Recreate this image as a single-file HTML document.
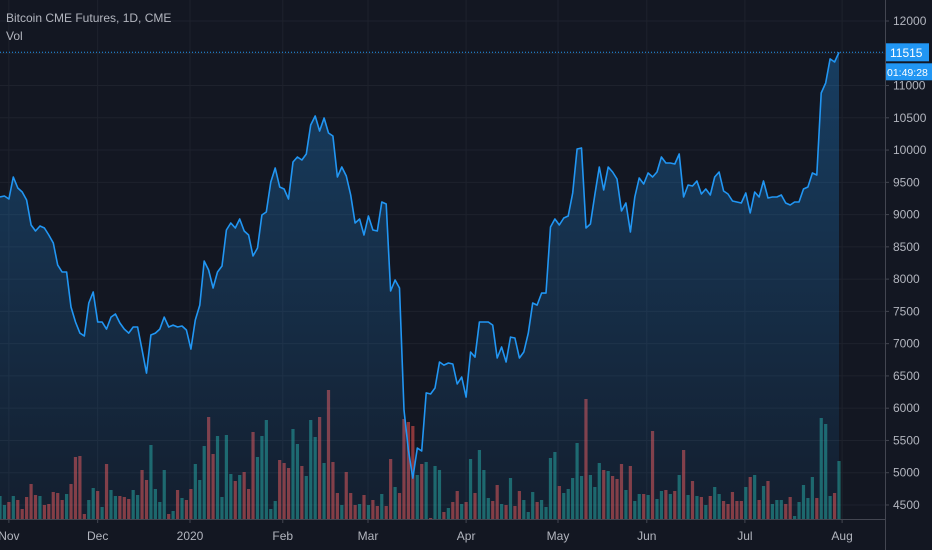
<!DOCTYPE html>
<html><head><meta charset="utf-8">
<style>
html,body{margin:0;padding:0;background:#131722;}
svg{display:block;font-family:"Liberation Sans",sans-serif;}
</style></head>
<body>
<svg id="chart" width="932" height="550" viewBox="0 0 932 550">
<defs>
<linearGradient id="areaGrad" x1="0" y1="0" x2="0" y2="1">
<stop offset="0" stop-color="#2196f3" stop-opacity="0.30"/>
<stop offset="1" stop-color="#2196f3" stop-opacity="0.06"/>
</linearGradient>
</defs>
<rect x="0" y="0" width="932" height="550" fill="#131722"/>
<g id="grid"></g>
<g id="vol"></g>
<g id="price"></g>
<g id="axes"></g>
<text x="6" y="22" fill="#b2b5be" font-size="12">Bitcoin CME Futures, 1D, CME</text>
<text x="6" y="40" fill="#b2b5be" font-size="12">Vol</text>
</svg>
<script>
const priceTicks = [12000,11500,11000,10500,10000,9500,9000,8500,8000,7500,7000,6500,6000,5500,5000,4500];
const monthLabels = ["Nov","Dec","2020","Feb","Mar","Apr","May","Jun","Jul","Aug"];
const monthBarIndex = [2,22,42.8,63.7,82.9,105,125.7,145.7,167.8,189.7];
const lastPrice = 11515;
const countdown = "01:49:28";
const closes = [9272,9288,9242,9582,9412,9350,9226,8838,8746,8823,8792,8683,8560,8218,8110,8110,7568,7335,7164,7118,7630,7800,7335,7335,7226,7412,7459,7320,7226,7164,7258,7258,6901,6544,7134,7164,7226,7412,7258,7288,7258,7273,7211,6916,7366,7598,8280,8141,7862,8110,8203,8761,
8870,8792,8932,8746,8683,8358,8482,8994,9040,9505,9722,9428,9397,9242,9815,9892,9846,9939,10388,10528,10296,10497,10264,10218,9582,9738,9598,9304,8870,8932,8683,8978,8761,8746,9195,9164,7816,7986,7862,5971,5351,4917,5382,5336,6237,6219,6312,6715,6668,
6700,6684,6374,6483,6172,6870,6792,7335,7335,7335,7288,6777,6948,6715,7102,7087,6777,6870,7164,7630,7598,7784,7784,8808,8932,8838,8947,8978,9334,10016,10032,8792,8854,9304,9738,9381,9738,9660,9552,9056,9180,8730,9272,9567,9474,9644,9582,9660,9892,9800,9800,
9784,9939,9272,9458,9443,9520,9319,9397,9304,9582,9660,9366,9319,9210,9195,9180,9334,9024,9350,9272,9520,9257,9272,9272,9304,9180,9148,9195,9195,9397,9428,9644,9613,10884,11040,11412,11365,11515];
const volumes = [23,14,17,23,19,10,22,35,24,23,14,15,27,26,19,25,35,62,63,5,19,31,28,12,55,29,23,23,22,20,29,24,49,39,74,30,17,49,5,8,29,21,19,30,55,39,73,102,65,83,22,84,45,38,44,47,30,87,62,83,99,10,18,59,56,51,90,75,53,43,99,82,102,56,129,57,26,14,47,26,14,15,24,14,19,13,25,13,60,32,26,100,97,93,44,55,57,1,53,49,7,11,17,28,15,
17,60,26,69,49,21,18,34,15,14,41,13,28,19,7,27,17,19,12,61,67,33,26,30,41,76,43,120,44,32,56,49,48,43,40,55,29,53,18,25,25,24,88,20,28,29,25,28,44,69,24,38,23,22,14,23,32,25,18,15,27,18,18,32,42,44,19,33,38,15,19,19,15,22,3,17,34,21,42,21,101,95,23,26,58];

const svg = document.getElementById('chart');
const NS = 'http://www.w3.org/2000/svg';
const plotRight = 885, baseY = 519, lastX = 839;
function yP(v){ return 21 + (12000 - v) * 0.06453; }
function xP(i){ return i * lastX / (closes.length - 1); }
function xV(i){ return i * lastX / (volumes.length - 1); }
function yV(v){ return baseY - v; }
function mk(tag, attrs, parent){ const e=document.createElementNS(NS,tag); for(const k in attrs) e.setAttribute(k,attrs[k]); parent.appendChild(e); return e; }

const grid = document.getElementById('grid');
priceTicks.forEach(t=>{
  const l = mk('line',{x1:0,x2:plotRight,y1:yP(t),y2:yP(t),stroke:'#1e222d','stroke-width':1},grid);
  
  
});
monthBarIndex.forEach(i=>{
  const x = xP(i);
  const l = mk('line',{x1:x,x2:x,y1:0,y2:baseY,stroke:'#1e222d','stroke-width':1},grid);
  
  
});

const vol = document.getElementById('vol');
volumes.forEach((v,i)=>{
  const pi = Math.round(i*(closes.length-1)/(volumes.length-1));
  const up = pi===0 ? true : closes[pi] >= closes[pi-1];
  const r = mk('rect',{x:xV(i)-1.6,y:yV(v),width:3.2,height:v,fill:up?'#26a69a':'#ef5350','fill-opacity':0.55},vol);
  
  
});

const pg = document.getElementById('price');
let d = '';
closes.forEach((c,i)=>{ d += (i?'L':'M') + xP(i).toFixed(1) + ' ' + yP(c).toFixed(1); });
const area = mk('path',{d: d + 'L' + xP(closes.length-1) + ' ' + baseY + 'L0 ' + baseY + 'Z', fill:'url(#areaGrad)'},pg);


const line = mk('path',{d:d,fill:'none',stroke:'#2196f3','stroke-width':1.6,'stroke-linejoin':'round'},pg);


const ly = yP(lastPrice);
const dl = mk('line',{x1:0,x2:plotRight,y1:ly,y2:ly,stroke:'#2196f3','stroke-width':1,'stroke-dasharray':'1 2'},pg);



const ax = document.getElementById('axes');
const sep = mk('line',{x1:plotRight+0.5,x2:plotRight+0.5,y1:0,y2:550,stroke:'#434651','stroke-width':1},ax);


const tb = mk('line',{x1:0,x2:plotRight,y1:baseY+0.5,y2:baseY+0.5,stroke:'#434651','stroke-width':1},ax);


priceTicks.forEach(t=>{
  const tk = mk('line',{x1:plotRight,x2:plotRight+4,y1:yP(t),y2:yP(t),stroke:'#434651'},ax);
  
  
  const tx = mk('text',{x:893,y:yP(t)+4,fill:'#b2b5be','font-size':12},ax);
  tx.textContent = t;
  
  
});
monthBarIndex.forEach((i,k)=>{
  const x = xP(i);
  const tk = mk('line',{x1:x,x2:x,y1:baseY,y2:baseY+4,stroke:'#434651'},ax);
  
  
  const tx = mk('text',{x:x,y:540,fill:'#b2b5be','font-size':12,'text-anchor':'middle'},ax);
  tx.textContent = monthLabels[k];
  
  
});
const pb = mk('rect',{x:886,y:ly-9,width:43,height:18,fill:'#2196f3'},ax);


const pt = mk('text',{x:890,y:ly+4.5,fill:'#ffffff','font-size':12},ax);
pt.textContent = lastPrice;


const cb = mk('rect',{x:886,y:ly+11,width:46,height:17,fill:'#2196f3'},ax);


const ct = mk('text',{x:887,y:ly+23.5,fill:'#ffffff','font-size':10.5},ax);
ct.textContent = countdown;


</script>
</body></html>
